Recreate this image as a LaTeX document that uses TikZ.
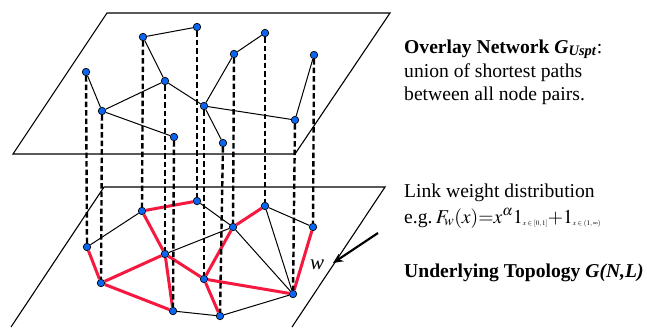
\documentclass[tikz,border=0pt]{standalone}
\usepackage{mathptmx}
\usepackage{fontspec}
\setmainfont{Liberation Serif}
\usepackage{xcolor}
\definecolor{nodeblue}{HTML}{0A66F0}
\definecolor{pathred}{HTML}{F5183F}
\usetikzlibrary{arrows.meta}
\newcommand{\tinysub}[1]{\mbox{\fontsize{7}{8}\selectfont$#1$}}
\tikzset{
  netnode/.style={
    circle, draw=black, line width=0.7pt, fill=nodeblue,
    inner sep=0pt, minimum size=7.5pt
  },
  plane/.style={line width=1.1pt, draw=black, line join=miter},
  link/.style={line width=1pt, draw=black},
  sptlink/.style={line width=3pt, draw=pathred},
  drop/.style={line width=2.4pt, dash pattern=on 5.5pt off 3pt},
  infotext/.style={anchor=base west, inner sep=0pt, font=\fontsize{19.6}{24}\selectfont},
  arrow/.style={-{Stealth[length=10pt,width=9pt]}, line width=2.2pt}
}

\begin{document}
\begin{tikzpicture}[x=1pt,y=-1pt]

  \useasboundingbox (0,0) rectangle (647,327);

  % Planes
  \draw[plane] (107,13) -- (390,13) -- (295,154) -- (13,154) -- cycle;
  \draw[plane] (11,327) -- (104,187) -- (385,187) -- (292,327);

  % Overlay nodes (upper plane)
  \node[netnode] (oA) at (86,72) {};
  \node[netnode] (oB) at (102,111) {};
  \node[netnode] (oC) at (143,37) {};
  \node[netnode] (oD) at (197,27) {};
  \node[netnode] (oE) at (165,81) {};
  \node[netnode] (oF) at (174,137) {};
  \node[netnode] (oG) at (204,106) {};
  \node[netnode] (oH) at (223,143) {};
  \node[netnode] (oI) at (234,54) {};
  \node[netnode] (oJ) at (265,33) {};
  \node[netnode] (oK) at (295,120) {};
  \node[netnode] (oL) at (314,55) {};

  % Underlying nodes (lower plane)
  \node[netnode] (uA) at (87,247) {};
  \node[netnode] (uB) at (101,283) {};
  \node[netnode] (uC) at (142,211) {};
  \node[netnode] (uD) at (197,201) {};
  \node[netnode] (uE) at (165,254) {};
  \node[netnode] (uF) at (173,311) {};
  \node[netnode] (uG) at (204,279) {};
  \node[netnode] (uH) at (220,316) {};
  \node[netnode] (uI) at (233,227) {};
  \node[netnode] (uJ) at (265,206) {};
  \node[netnode] (uK) at (293,294) {};
  \node[netnode] (uL) at (313,227) {};

  % Overlay links
  \draw[link] (oA) -- (oB);
  \draw[link] (oB) -- (oE);
  \draw[link] (oB) -- (oF);
  \draw[link] (oC) -- (oE);
  \draw[link] (oC) -- (oD);
  \draw[link] (oE) -- (oG);
  \draw[link] (oG) -- (oH);
  \draw[link] (oG) -- (oI);
  \draw[link] (oI) -- (oJ);
  \draw[link] (oG) -- (oK);
  \draw[link] (oK) -- (oL);

  % Underlying links
  \draw[link] (uA) -- (uC);
  \draw[link] (uD) -- (uI);
  \draw[link] (uE) -- (uI);
  \draw[link] (uI) -- (uK);
  \draw[link] (uJ) -- (uK);
  \draw[link] (uJ) -- (uL);
  \draw[link] (uF) -- (uH);
  \draw[link] (uH) -- (uK);

  % Shortest path links
  \draw[sptlink] (uA) -- (uB);
  \draw[sptlink] (uB) -- (uE);
  \draw[sptlink] (uB) -- (uF);
  \draw[sptlink] (uC) -- (uD);
  \draw[sptlink] (uC) -- (uE);
  \draw[sptlink] (uE) -- (uF);
  \draw[sptlink] (uE) -- (uG);
  \draw[sptlink] (uG) -- (uH);
  \draw[sptlink] (uG) -- (uI);
  \draw[sptlink] (uI) -- (uJ);
  \draw[sptlink] (uG) -- (uK);
  \draw[sptlink] (uK) -- (uL);

  % Vertical projections
  \draw[drop] (oA) -- (uA);
  \draw[drop] (oB) -- (uB);
  \draw[drop] (oC) -- (uC);
  \draw[drop] (oD) -- (uD);
  \draw[drop] (oE) -- (uE);
  \draw[drop] (oF) -- (uF);
  \draw[drop] (oG) -- (uG);
  \draw[drop] (oH) -- (uH);
  \draw[drop] (oI) -- (uI);
  \draw[drop] (oJ) -- (uJ);
  \draw[drop] (oK) -- (uK);
  \draw[drop] (oL) -- (uL);

  % Link weight pointer
  \coordinate (wtail) at (378,233);
  \coordinate (whead) at (333,263);
  \draw[arrow] (wtail) -- (whead);
  \node[inner sep=0pt, font=\fontsize{21}{24}\selectfont\itshape] (wlabel) at (317,265) {w};

  % Text
  \node[infotext] (ovtitle) at (404,53)
  {\textbf{Overlay Network \textit{G}\textsubscript{\textit{Uspt}}}:};
  \node[infotext] (ovline2) at (404,77) {union of shortest paths};
  \node[infotext] (ovline3) at (404,100) {between all node pairs.};

  \node[infotext] (lwline1) at (404,197) {Link weight distribution};
  \node[infotext] (lwline2) at (404,223)
  {e.g.\,$F_{\!w}(x){=}x^{\alpha}1_{\tinysub{x\in[0,1]}}{+}1_{\tinysub{x\in(1,\infty)}}$};

  \node[infotext] (uttitle) at (404,277)
  {\textbf{Underlying Topology \textit{G(N,L)}}};

\end{tikzpicture}
\end{document}
